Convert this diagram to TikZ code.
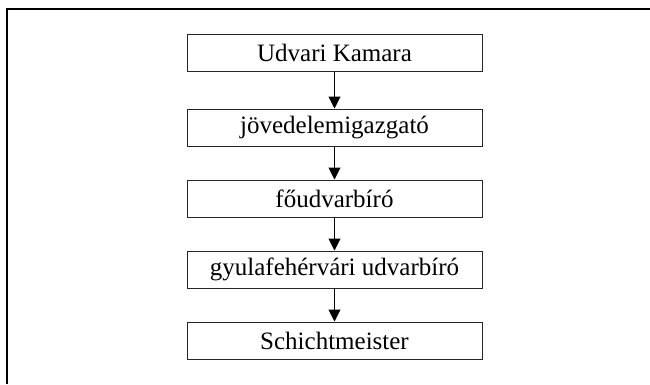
\documentclass[tikz,border=0pt]{standalone}
\usepackage{fontspec}
\setmainfont{Liberation Serif}
\usetikzlibrary{arrows.meta}
\tikzset{
  office/.style={draw=black!85, line width=1pt, minimum width=295pt, minimum height=37pt,
    inner sep=0pt, font=\fontsize{25}{28}\selectfont},
  down/.style={-{Triangle[length=12pt,width=12pt]}, line width=1pt}
}
\begin{document}
\begin{tikzpicture}[x=1pt,y=-1pt]
            \useasboundingbox (0,0) rectangle (650,384);
            % Frame
            \draw[line width=2pt] (7,384) -- (7,9) -- (650,9);
            % Nodes
            \node[office] (kamara) at (334.5,53){Udvari Kamara};
            \node[office] (jov) at (334.5,127.5){jövedelemigazgató};
            \node[office] (fou) at (334.5,198.5){főudvarbíró};
            \node[office] (gyula) at (334.5,269.5){gyulafehérvári udvarbíró};
            \node[office] (schicht) at (334.5,340.5){Schichtmeister};
            % Edges
            \draw[down] (kamara) -- (jov);
            \draw[down] (jov) -- (fou);
            \draw[down] (fou) -- (gyula);
            \draw[down] (gyula) -- (schicht);
        \end{tikzpicture}
\end{document}
